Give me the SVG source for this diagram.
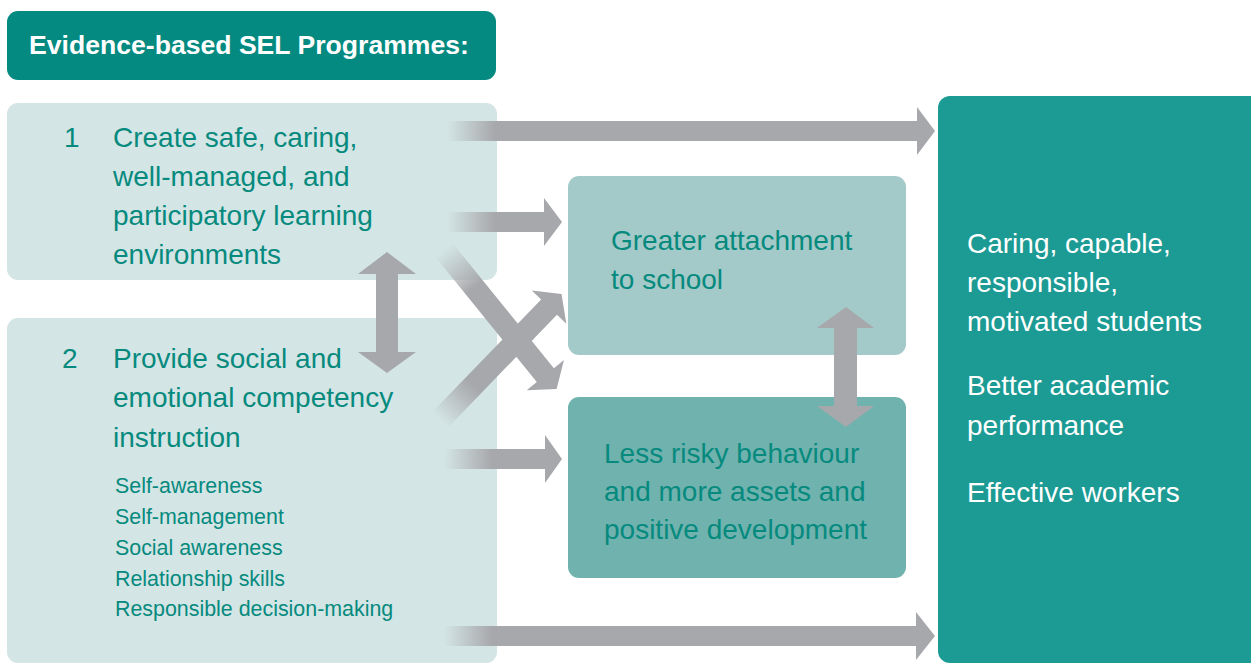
<svg xmlns="http://www.w3.org/2000/svg" width="1251" height="664" viewBox="0 0 1251 664">
<defs>
<style>
.t{font-family:"Liberation Sans",Arial,sans-serif;font-size:28px;fill:#068a7e}
.s{font-family:"Liberation Sans",Arial,sans-serif;font-size:21.4px;fill:#068a7e}
.w{font-family:"Liberation Sans",Arial,sans-serif;font-size:28px;fill:#ffffff}
.h{font-family:"Liberation Sans",Arial,sans-serif;font-size:26.6px;font-weight:bold;fill:#ffffff}
.arr{fill:url(#fade)}
.g{fill:#a7a8ab}
</style>
<linearGradient id="fade" gradientUnits="userSpaceOnUse" x1="0" y1="0" x2="48" y2="0">
<stop offset="0" stop-color="#a7a8ab" stop-opacity="0"/>
<stop offset="1" stop-color="#a7a8ab" stop-opacity="1"/>
</linearGradient>
</defs>
<rect width="1251" height="664" fill="#ffffff"/>

<g id="title">
<rect x="7" y="11" width="489" height="69" rx="11" fill="#048a80"/>
<text class="h" x="29" y="54">Evidence-based SEL Programmes:</text>
</g>

<g id="box1">
<rect x="7" y="103" width="490" height="177" rx="11" fill="#d4e5e5"/>
<text class="t" x="64" y="147">1</text>
<text class="t" x="113" y="147">Create safe, caring,</text>
<text class="t" x="113" y="186">well-managed, and</text>
<text class="t" x="113" y="225">participatory learning</text>
<text class="t" x="113" y="264">environments</text>
</g>

<g id="box2">
<rect x="7" y="318" width="490" height="345" rx="11" fill="#d4e5e5"/>
<text class="t" x="62" y="368">2</text>
<text class="t" x="113" y="368">Provide social and</text>
<text class="t" x="113" y="407">emotional competency</text>
<text class="t" x="113" y="447">instruction</text>
<text class="s" x="115" y="493">Self-awareness</text>
<text class="s" x="115" y="524">Self-management</text>
<text class="s" x="115" y="555">Social awareness</text>
<text class="s" x="115" y="586">Relationship skills</text>
<text class="s" x="115" y="616">Responsible decision-making</text>
</g>

<g id="attachment">
<rect x="568" y="176" width="338" height="179" rx="11" fill="#a3c9c8"/>
<text class="t" x="611" y="250">Greater attachment</text>
<text class="t" x="611" y="289">to school</text>
</g>

<g id="behaviour">
<rect x="568" y="397" width="338" height="181" rx="11" fill="#70b2ae"/>
<text class="t" x="604" y="463">Less risky behaviour</text>
<text class="t" x="604" y="501">and more assets and</text>
<text class="t" x="604" y="539">positive development</text>
</g>

<g id="outcomes">
<rect x="938" y="96" width="340" height="567" rx="12" fill="#1c9a94"/>
<text class="w" x="967" y="253">Caring, capable,</text>
<text class="w" x="967" y="292">responsible,</text>
<text class="w" x="967" y="331">motivated students</text>
<text class="w" x="967" y="395">Better academic</text>
<text class="w" x="967" y="435">performance</text>
<text class="w" x="967" y="502">Effective workers</text>
</g>

<g id="connectors">
<g transform="translate(447,131)"><polygon class="arr" points="0,-10 470,-10 470,-24 488,0 470,24 470,10 0,10"/></g>
<g transform="translate(447,222)"><polygon class="arr" points="0,-10 97,-10 97,-24 115,0 97,24 97,10 0,10"/></g>
<g transform="translate(444,459)"><polygon class="arr" points="0,-10 101,-10 101,-24 118,0 101,24 101,10 0,10"/></g>
<g transform="translate(444,636)"><polygon class="arr" points="0,-10 472,-10 472,-24 491,0 472,24 472,10 0,10"/></g>
<g transform="translate(444,250) rotate(51)"><polygon class="arr" points="0,-11 161,-11 161,-24 179,0 161,24 161,11 0,11"/></g>
<g transform="translate(440,420) rotate(-46)"><polygon class="arr" points="0,-11 157,-11 157,-24 175,0 157,24 157,11 0,11"/></g>
<polygon class="g" points="387,252 416,274 398,274 398,352 416,352 387,373 358,352 376,352 376,274 358,274"/>
<polygon class="g" points="846,307 874,328 857,328 857,406 874,406 846,427 817,406 834,406 834,328 817,328"/>
</g>
</svg>
